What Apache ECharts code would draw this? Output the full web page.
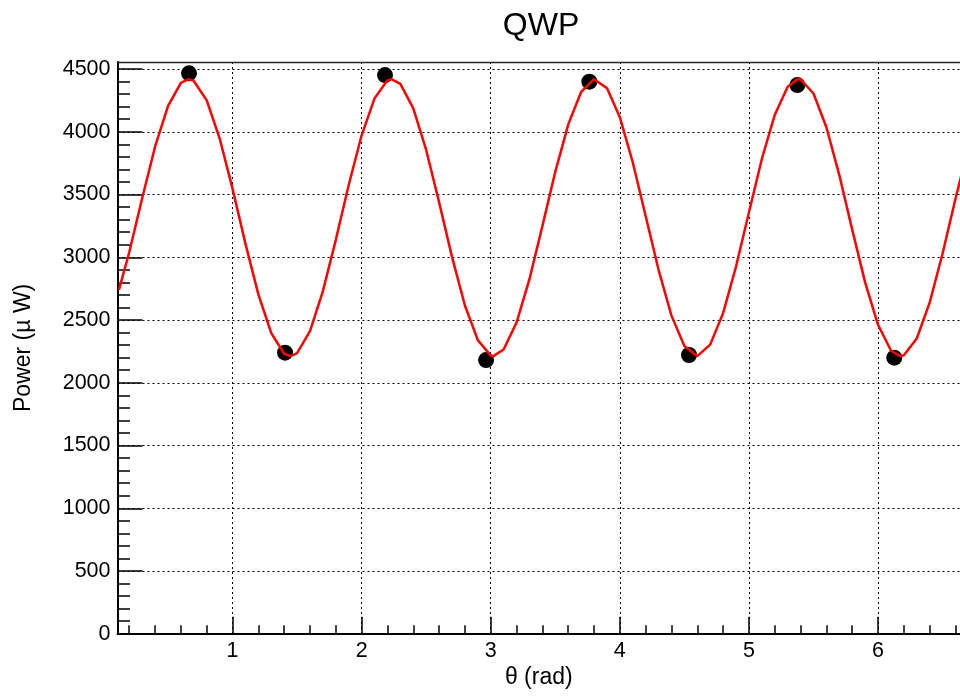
<!DOCTYPE html>
<html>
<head>
<meta charset="utf-8">
<title>QWP</title>
<script src="https://cdn.jsdelivr.net/npm/echarts@6/dist/echarts.min.js"></script>
<style>
  html, body { margin: 0; padding: 0; background: #fff; }
  #chart { width: 960px; height: 697px; }
</style>
</head>
<body>
<div id="chart"></div>
<script>
// measured points (theta in rad, power in uW)
const theta = [0.663, 1.407, 2.181, 2.964, 3.764, 4.536, 5.375, 6.126];
const power = [4466, 2240, 4452, 2181, 4399, 2221, 4372, 2200];

// fitted curve
const fitTheta = [0.12, 0.2, 0.3, 0.4, 0.5, 0.6, 0.66, 0.7, 0.8, 0.9, 1.0,
  1.1, 1.2, 1.3, 1.4, 1.45, 1.5, 1.6, 1.7, 1.8, 1.9, 2.0,
  2.1, 2.2, 2.23, 2.3, 2.4, 2.5, 2.6, 2.7, 2.8, 2.9, 3.0, 3.02,
  3.1, 3.2, 3.3, 3.4, 3.5, 3.6, 3.7, 3.8, 3.9, 4.0,
  4.1, 4.2, 4.3, 4.4, 4.5, 4.6, 4.7, 4.8, 4.9, 5.0,
  5.1, 5.2, 5.3, 5.38, 5.4, 5.5, 5.6, 5.7, 5.8, 5.9, 6.0,
  6.1, 6.17, 6.2, 6.3, 6.4, 6.5, 6.6, 6.7];
const fitPower = [2740, 3040, 3470, 3881, 4205, 4390, 4420, 4405, 4250, 3948, 3547,
  3109, 2704, 2395, 2231, 2212, 2237, 2412, 2730, 3139, 3576, 3972,
  4266, 4410, 4420, 4382, 4187, 3855, 3439, 3003, 2616, 2340, 2216, 2212,
  2265, 2480, 2825, 3248, 3681, 4057, 4317, 4419, 4348, 4116,
  3757, 3329, 2900, 2535, 2293, 2212, 2304, 2555, 2926, 3357,
  3783, 4134, 4358, 4420, 4418, 4305, 4036, 3655, 3220, 2800, 2462,
  2257, 2212, 2219, 2353, 2638, 3030, 3466, 3879];

// axes (the x range stops where the picture is cut off)
const xRange = [0.109, 6.635];
const yRange = [0, 4556];
const xMajor = [1, 2, 3, 4, 5, 6];
const xMinor = [0.2, 0.4, 0.6, 0.8, 1.2, 1.4, 1.6, 1.8, 2.2, 2.4, 2.6, 2.8,
  3.2, 3.4, 3.6, 3.8, 4.2, 4.4, 4.6, 4.8, 5.2, 5.4, 5.6, 5.8, 6.2, 6.4, 6.6];
const yMajor = [0, 500, 1000, 1500, 2000, 2500, 3000, 3500, 4000, 4500];
const yMinor = [100, 200, 300, 400, 600, 700, 800, 900, 1100, 1200, 1300, 1400,
  1600, 1700, 1800, 1900, 2100, 2200, 2300, 2400, 2600, 2700, 2800, 2900,
  3100, 3200, 3300, 3400, 3600, 3700, 3800, 3900, 4100, 4200, 4300, 4400];

const font = '"Liberation Sans", Arial, Helvetica, sans-serif';
const gridDots = { color: '#000', width: 1, type: [2, 3] };
const hidden = { axisLabel: { show: false }, splitLine: { show: false } };

const chart = echarts.init(document.getElementById('chart'));

chart.setOption({
  animation: false,
  backgroundColor: '#fff',
  title: {
    text: 'QWP', left: 541, top: 10, padding: 0, textAlign: 'center',
    textStyle: { fontFamily: font, fontSize: 32, fontWeight: 'normal', color: '#000' },
  },
  grid: { left: 117.5, right: 0, top: 62, bottom: 63.25, show: false },
  xAxis: [{
    type: 'value', min: xRange[0], max: xRange[1], position: 'bottom',
    name: 'θ (rad)', nameLocation: 'middle', nameGap: 32,
    nameTextStyle: { fontFamily: font, fontSize: 23, color: '#000' },
    axisLine: { onZero: false, lineStyle: { color: '#000', width: 2 } },
    axisTick: { inside: true, length: 17, customValues: xMajor, lineStyle: { color: '#000', width: 1.5 } },
    axisLabel: { customValues: xMajor, margin: 6, fontFamily: font, fontSize: 21.5, color: '#000' },
    splitLine: { show: true, lineStyle: gridDots },
  }, {
    type: 'value', min: xRange[0], max: xRange[1], position: 'bottom', ...hidden,
    axisLine: { show: false },
    axisTick: { inside: true, length: 8.5, customValues: xMinor, lineStyle: { color: '#000', width: 1.5 } },
  }, {
    // top edge of the frame
    type: 'value', min: xRange[0], max: xRange[1], position: 'top', ...hidden,
    axisLine: { onZero: false, lineStyle: { color: '#222', width: 1.3 } },
    axisTick: { show: false },
  }],
  yAxis: [{
    type: 'value', min: yRange[0], max: yRange[1], position: 'left',
    name: 'Power (µ W)', nameLocation: 'middle', nameGap: 82,
    nameTextStyle: { fontFamily: font, fontSize: 23, color: '#000' },
    axisLine: { onZero: false, lineStyle: { color: '#000', width: 2 } },
    axisTick: { inside: true, length: 25, customValues: yMajor, lineStyle: { color: '#000', width: 1.5 } },
    axisLabel: { customValues: yMajor, margin: 7, fontFamily: font, fontSize: 21.5, color: '#000',
      formatter: v => String(v) },
    splitLine: { show: true, lineStyle: gridDots },
  }, {
    type: 'value', min: yRange[0], max: yRange[1], position: 'left', ...hidden,
    axisLine: { show: false },
    axisTick: { inside: true, length: 12.5, customValues: yMinor, lineStyle: { color: '#000', width: 1.5 } },
  }],
  series: [{
    type: 'scatter', xAxisIndex: 0, yAxisIndex: 0,
    data: theta.map((t, i) => [t, power[i]]),
    symbol: 'circle', symbolSize: 16,
    itemStyle: { color: '#000', opacity: 1 }, z: 2,
  }, {
    type: 'line', xAxisIndex: 0, yAxisIndex: 0,
    data: fitTheta.map((t, i) => [t, fitPower[i]]),
    showSymbol: false, smooth: false,
    lineStyle: { color: '#ff0000', width: 2.5 }, z: 3,
  }],
});
</script>
</body>
</html>
